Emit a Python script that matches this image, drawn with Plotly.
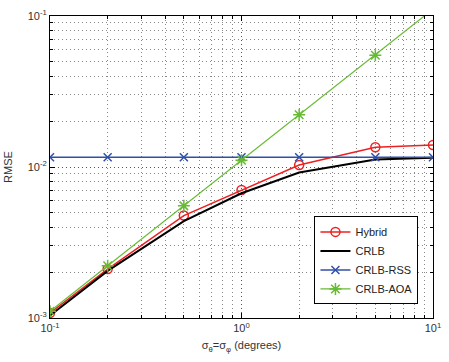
import plotly.graph_objects as go

sigma = [0.1, 0.2, 0.5, 1, 2, 5, 10]
hybrid = [1.08e-3, 2.11e-3, 4.77e-3, 7.05e-3, 1.03e-2, 1.35e-2, 1.40e-2]
crlb = [1.04e-3, 2.05e-3, 4.38e-3, 6.7e-3, 9.2e-3, 1.12e-2, 1.15e-2]
crlb_rss = [1.16e-2] * 7
crlb_aoa = [1.11e-3, 2.22e-3, 5.53e-3, 1.11e-2, 2.22e-2, 5.5e-2, 1.11e-1]

x_tickvals = [0.1, 1, 10]
x_ticktext = ["10<sup>-1</sup>", "10<sup>0</sup>", "10<sup>1</sup>"]
y_tickvals = [1e-3, 1e-2, 1e-1]
y_ticktext = ["10<sup>-3</sup>", "10<sup>-2</sup>", "10<sup>-1</sup>"]

RED = "#ee2020"
BLUE = "#3050a8"
GREEN = "#66bb33"
FONT = "Liberation Sans, Arial"

fig = go.Figure()
fig.add_trace(go.Scatter(x=sigma, y=hybrid, name="Hybrid", mode="lines+markers",
                         line=dict(color=RED, width=1.5),
                         marker=dict(symbol="circle-open", size=9, color=RED, line=dict(width=1.5))))
fig.add_trace(go.Scatter(x=sigma, y=crlb, name="CRLB", mode="lines",
                         line=dict(color="black", width=2)))
fig.add_trace(go.Scatter(x=sigma, y=crlb_rss, name="CRLB-RSS", mode="lines+markers",
                         line=dict(color=BLUE, width=1.5),
                         marker=dict(symbol="x-thin-open", size=8, color=BLUE, line=dict(width=1.5, color=BLUE))))
fig.add_trace(go.Scatter(x=sigma, y=crlb_aoa, name="CRLB-AOA", mode="lines+markers",
                         line=dict(color=GREEN, width=1.2),
                         marker=dict(symbol="asterisk-open", size=10, color=GREEN, line=dict(width=1.5, color=GREEN))))

axis_common = dict(
    type="log", showline=True, linecolor="black", linewidth=1, mirror="ticks",
    ticks="inside", ticklen=5, tickcolor="black",
    showgrid=True, gridcolor="#555555", griddash="1px,3px", gridwidth=1,
    zeroline=False,
    tickfont=dict(family=FONT, size=11, color="#333333"),
    minor=dict(dtick="D1", ticks="inside", ticklen=3, tickcolor="black",
               showgrid=True, gridcolor="#888888", griddash="1px,3px", gridwidth=1),
)

fig.update_xaxes(**axis_common, range=[-1, 1], tickvals=x_tickvals, ticktext=x_ticktext,
                 title=dict(text="σ<sub>θ</sub>=σ<sub>φ</sub> (degrees)", standoff=8,
                            font=dict(family=FONT, size=11, color="#333333")))
fig.update_yaxes(**axis_common, range=[-3, -1], tickvals=y_tickvals, ticktext=y_ticktext,
                 title=dict(text="RMSE", standoff=12,
                            font=dict(family=FONT, size=11, color="#333333")))

fig.update_layout(
    width=449, height=362,
    margin=dict(l=49, r=8, t=12, b=44),
    plot_bgcolor="white", paper_bgcolor="white",
    showlegend=True,
    legend=dict(x=0.962, y=0.045, xanchor="right", yanchor="bottom",
                bgcolor="white", bordercolor="black", borderwidth=1,
                font=dict(family=FONT, size=11, color="#222222"),
                itemwidth=30, tracegroupgap=0),
)

fig.write_html("out.html")
